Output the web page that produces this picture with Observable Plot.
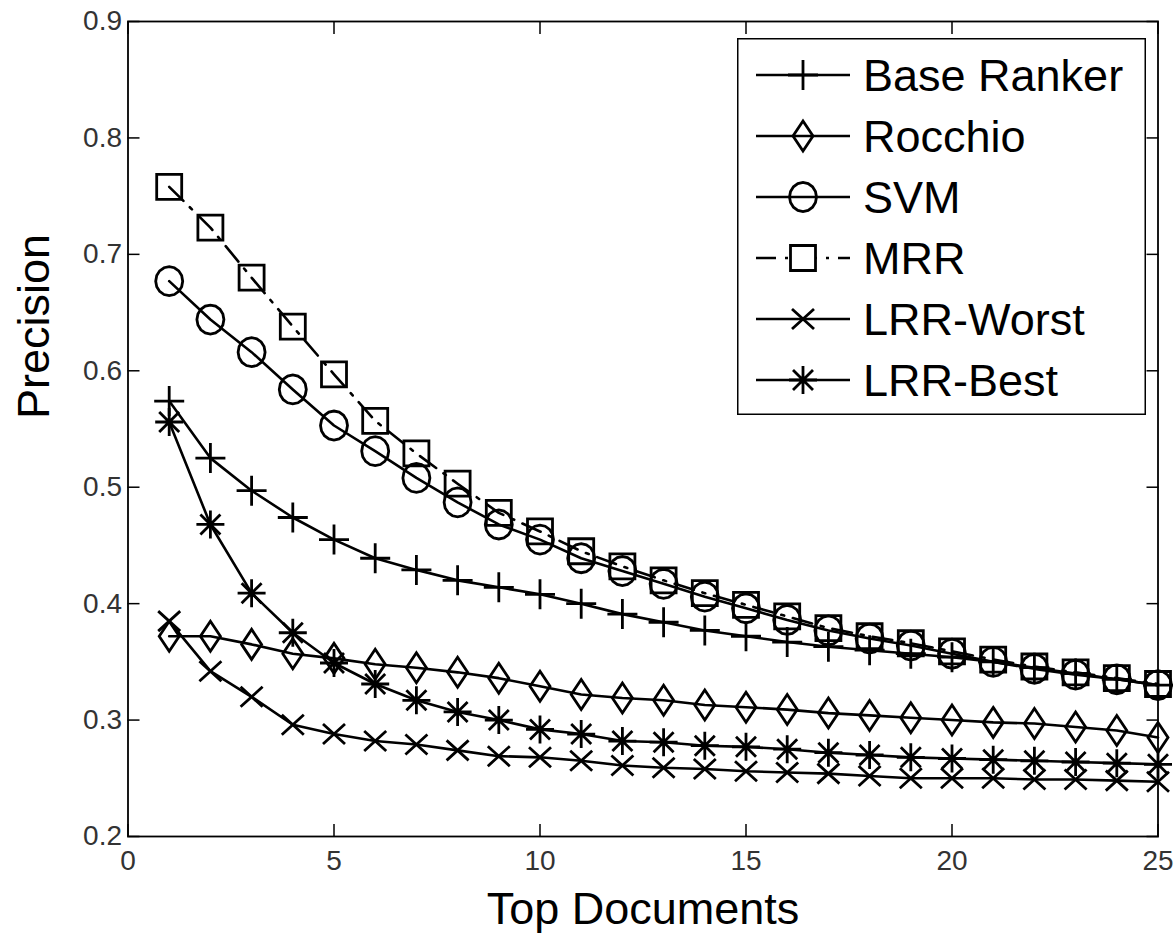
<!DOCTYPE html>
<html>
<head>
<meta charset="utf-8">
<script src="https://cdn.jsdelivr.net/npm/d3@7"></script>
<script src="https://cdn.jsdelivr.net/npm/@observablehq/plot@0.6"></script>
<style>
  html, body { margin: 0; padding: 0; background: white; }
  #wrap { position: relative; width: 1176px; height: 936px; overflow: hidden; }
  #legend { position: absolute; left: 737px; top: 38px; }
</style>
</head>
<body>
<div id="wrap"></div>
<script>
// ---- data ----
const topDocs = [1,2,3,4,5,6,7,8,9,10,11,12,13,14,15,16,17,18,19,20,21,22,23,24,25];
const seriesNames = ["Base Ranker", "Rocchio", "SVM", "MRR", "LRR-Worst", "LRR-Best"];
const baseRanker = [0.574,0.525,0.497,0.474,0.455,0.439,0.429,0.420,0.414,0.408,0.400,0.391,0.384,0.377,0.372,0.367,0.363,0.360,0.357,0.354,0.350,0.345,0.340,0.335,0.330];
const rocchio    = [0.372,0.372,0.365,0.357,0.353,0.348,0.345,0.341,0.336,0.329,0.322,0.319,0.317,0.313,0.311,0.309,0.306,0.304,0.302,0.300,0.298,0.297,0.294,0.291,0.285];
const svm        = [0.677,0.644,0.616,0.584,0.553,0.531,0.508,0.487,0.468,0.455,0.439,0.428,0.417,0.406,0.396,0.386,0.377,0.370,0.364,0.357,0.350,0.344,0.339,0.335,0.330];
const mrr        = [0.758,0.723,0.680,0.638,0.597,0.557,0.529,0.503,0.478,0.462,0.445,0.432,0.420,0.409,0.399,0.389,0.379,0.372,0.366,0.359,0.352,0.346,0.341,0.336,0.331];
const lrrWorst   = [0.385,0.342,0.320,0.296,0.288,0.282,0.279,0.274,0.269,0.268,0.265,0.261,0.259,0.258,0.256,0.255,0.254,0.252,0.250,0.250,0.250,0.249,0.249,0.248,0.247];
const lrrBest    = [0.556,0.468,0.409,0.375,0.349,0.331,0.317,0.307,0.300,0.292,0.288,0.282,0.281,0.278,0.277,0.275,0.272,0.270,0.268,0.267,0.266,0.265,0.264,0.263,0.262];
const xTicks = [0, 5, 10, 15, 20, 25];
const yTicks = [0.2, 0.3, 0.4, 0.5, 0.6, 0.7, 0.8, 0.9];
const xLabel = "Top Documents";
const yLabel = "Precision";

// ---- marker shapes (MATLAB-like, unfilled) ----
const symPlus = { draw(c) { const h = 15; c.moveTo(-h, 0); c.lineTo(h, 0); c.moveTo(0, -h); c.lineTo(0, h); } };
const symDiamond = { draw(c) { const w = 10, h = 15; c.moveTo(0, -h); c.lineTo(w, 0); c.lineTo(0, h); c.lineTo(-w, 0); c.closePath(); } };
const symCircle = { draw(c) { const rx = 13.5, ry = 14.5, n = 16; for (let i = 0; i <= n; i++) { const a = (i / n) * 2 * Math.PI; const px = rx * Math.cos(a), py = ry * Math.sin(a); if (i === 0) c.moveTo(px, py); else c.lineTo(px, py); } c.closePath(); } };
const symSquare = { draw(c) { const h = 12.5; c.moveTo(-h, -h); c.lineTo(h, -h); c.lineTo(h, h); c.lineTo(-h, h); c.closePath(); } };
const symTimes = { draw(c) { const w = 11, h = 10; c.moveTo(-w, -h); c.lineTo(w, h); c.moveTo(-w, h); c.lineTo(w, -h); } };
const symStar = { draw(c) { const h = 14, d = 10; c.moveTo(-h, 0); c.lineTo(h, 0); c.moveTo(0, -h); c.lineTo(0, h); c.moveTo(-d, -d); c.lineTo(d, d); c.moveTo(-d, d); c.lineTo(d, -d); } };

const seriesValues = [baseRanker, rocchio, svm, mrr, lrrWorst, lrrBest];
const symbols = [symPlus, symDiamond, symCircle, symSquare, symTimes, symStar];
const dashes = [null, null, null, "20,9,3,9", null, null];

const rows = [];
seriesNames.forEach((name, i) => {
  topDocs.forEach((d, j) => rows.push({series: name, k: d, v: seriesValues[i][j]}));
});

const font = "'Liberation Sans', Arial, sans-serif";
const lineMarks = [];
seriesNames.forEach((name, i) => {
  const data = rows.filter(r => r.series === name);
  lineMarks.push(Plot.line(data, {x: "k", y: "v", stroke: "black", strokeWidth: 2.6, strokeDasharray: dashes[i] ?? undefined}));
  lineMarks.push(Plot.dot(data, {x: "k", y: "v", r: 5, symbol: symbols[i], stroke: "black", fill: "none", strokeWidth: 2.8}));
});

const chart = Plot.plot({
  width: 1176,
  height: 936,
  marginLeft: 127.5,
  marginRight: 18.5,
  marginTop: 21,
  marginBottom: 100,
  x: {domain: [0, 25]},
  y: {domain: [0.2, 0.9]},
  style: {fontFamily: font, background: "white", color: "black", overflow: "visible"},
  marks: [
    ...lineMarks,
    Plot.axisX({ticks: xTicks, tickSize: 0, tickPadding: 14, fontSize: 28, fill: "#333", label: null, tickFormat: d => String(d)}),
    Plot.axisX({ticks: xTicks, tickSize: -12, tickFormat: () => "", label: null, strokeWidth: 1.5}),
    Plot.axisX({anchor: "top", ticks: xTicks, tickSize: -12, tickFormat: () => "", label: null, strokeWidth: 1.5}),
    Plot.axisY({ticks: yTicks, tickSize: 0, tickPadding: 6, fontSize: 28, fill: "#333", label: null, tickFormat: d => d.toFixed(1)}),
    Plot.axisY({ticks: yTicks, tickSize: -12, tickFormat: () => "", label: null, strokeWidth: 1.5}),
    Plot.axisY({anchor: "right", ticks: yTicks, tickSize: -12, tickFormat: () => "", label: null, strokeWidth: 1.5}),
    Plot.frame({stroke: "black", strokeWidth: 1.8}),
    Plot.text([xLabel], {frameAnchor: "bottom", lineAnchor: "bottom", dy: 87, fontSize: 45, fill: "black"}),
    Plot.text([yLabel], {frameAnchor: "left", rotate: -90, dx: -93, dy: -10, fontSize: 45, fill: "black"})
  ]
});
document.getElementById("wrap").appendChild(chart);

// ---- legend (inside the axes, top right) ----
const lw = 409, lh = 377;
const legend = d3.select("#wrap").append("svg")
  .attr("id", "legend")
  .attr("width", lw).attr("height", lh)
  .style("font-family", font);
legend.append("rect").attr("x", 0.75).attr("y", 0.75).attr("width", lw - 1.5).attr("height", lh - 1.5)
  .attr("fill", "white").attr("stroke", "black").attr("stroke-width", 1.5);
seriesNames.forEach((name, i) => {
  const cy = 37 + i * 61;
  const g = legend.append("g").attr("transform", `translate(0,${cy})`);
  g.append("line").attr("x1", 19).attr("x2", 113).attr("y1", 0).attr("y2", 0)
    .attr("stroke", "black").attr("stroke-width", 2.6)
    .attr("stroke-dasharray", dashes[i] ? "20,9,3,9" : null);
  g.append("path").attr("d", d3.symbol(symbols[i], 80)()).attr("transform", "translate(66,0)")
    .attr("fill", i === 3 ? "white" : "none").attr("stroke", "black").attr("stroke-width", 2.8);
  g.append("text").attr("x", 126).attr("y", 0).attr("dy", "0.36em")
    .attr("font-size", 45).attr("fill", "black").text(name);
});
</script>
</body>
</html>
